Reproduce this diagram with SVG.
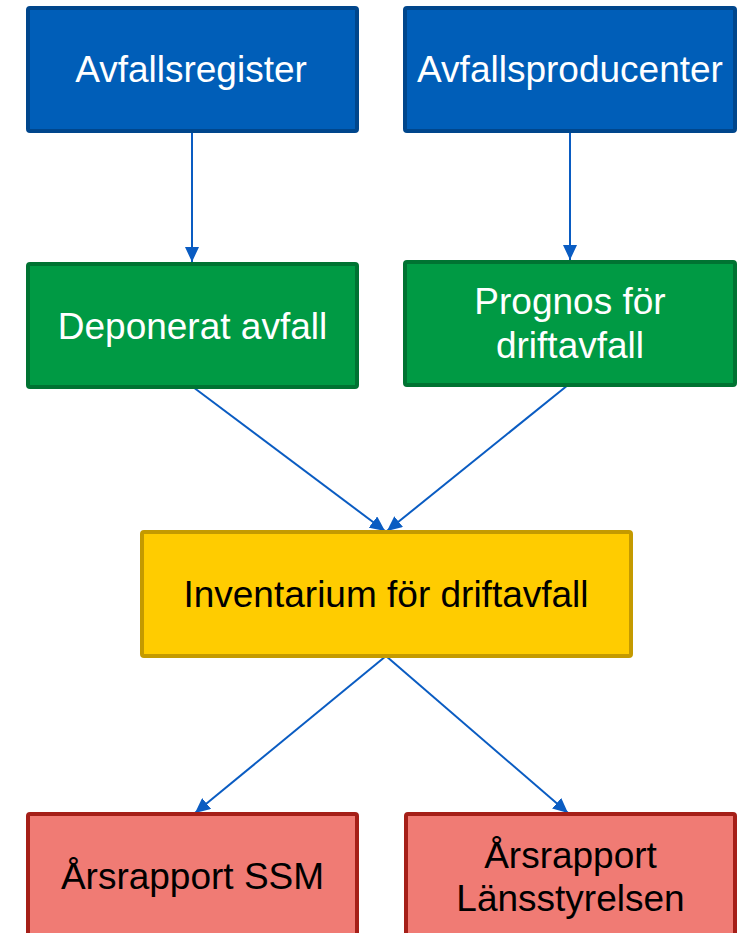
<svg xmlns="http://www.w3.org/2000/svg" width="746" height="933" viewBox="0 0 746 933">
<style>
.box{stroke-width:4}
.blue{fill:#005EB8;stroke:#00468C}
.green{fill:#009A44;stroke:#007332}
.yellow{fill:#FFCC00;stroke:#C49A00}
.red{fill:#F07B74;stroke:#A51F18}
text{font-family:"Liberation Sans",Arial,sans-serif;font-size:37px;text-anchor:middle}
.w{fill:#FFFFFF}
.k{fill:#000000}
.conn{stroke:#0A5CC2;stroke-width:2;fill:none;marker-end:url(#ah)}
</style>
<defs>
<marker id="ah" markerUnits="userSpaceOnUse" markerWidth="16" markerHeight="14" refX="15" refY="7" orient="auto">
<path d="M0,0 L15,7 L0,14 Z" fill="#0A5CC2"/>
</marker>
</defs>
<rect width="746" height="933" fill="#FFFFFF"/>
<g id="connectors">
<line class="conn" x1="192" y1="131" x2="192" y2="262"/>
<line class="conn" x1="570" y1="131" x2="570" y2="260"/>
<line class="conn" x1="193" y1="387" x2="385" y2="531"/>
<line class="conn" x1="568" y1="385" x2="387" y2="531"/>
<line class="conn" x1="386" y1="656" x2="195" y2="813"/>
<line class="conn" x1="386" y1="656" x2="568" y2="813"/>
</g>
<g id="avfallsregister">
<rect class="box blue" x="28" y="8" width="329" height="123" rx="2"/>
<text class="w" x="191" y="82">Avfallsregister</text>
</g>
<g id="avfallsproducenter">
<rect class="box blue" x="405" y="8" width="330" height="123" rx="2"/>
<text class="w" x="570" y="82">Avfallsproducenter</text>
</g>
<g id="deponerat">
<rect class="box green" x="28" y="264" width="329" height="123" rx="2"/>
<text class="w" x="192.5" y="339">Deponerat avfall</text>
</g>
<g id="prognos">
<rect class="box green" x="405" y="262" width="330" height="123" rx="2"/>
<text class="w" x="570" y="314">Prognos för</text>
<text class="w" x="570" y="358">driftavfall</text>
</g>
<g id="inventarium">
<rect class="box yellow" x="142" y="532" width="489" height="124" rx="2"/>
<text class="k" x="386" y="607">Inventarium för driftavfall</text>
</g>
<g id="ssm">
<rect class="box red" x="28" y="814" width="329" height="124" rx="2"/>
<text class="k" x="192.5" y="889">Årsrapport SSM</text>
</g>
<g id="lansstyrelsen">
<rect class="box red" x="406" y="814" width="329" height="124" rx="2"/>
<text class="k" x="570.5" y="868">Årsrapport</text>
<text class="k" x="570.5" y="911">Länsstyrelsen</text>
</g>
</svg>
